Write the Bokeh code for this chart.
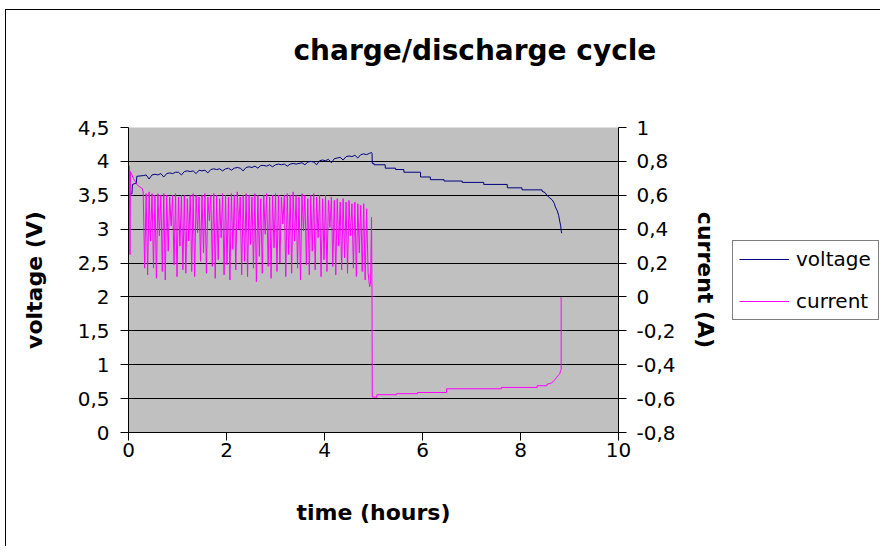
from bokeh.plotting import figure
from bokeh.layouts import row
from bokeh.models import Range1d, LinearAxis, FixedTicker, Legend, LegendItem, InlineStyleSheet
from bokeh.embed import file_html
from bokeh.resources import INLINE

title_text = "charge/discharge cycle"
x_label = "time (hours)"
y_label = "voltage (V)"
y2_label = "current (A)"
series_names = ["voltage", "current"]
series_colors = ["#000080", "#ff00ff"]

x_ticks = [0, 2, 4, 6, 8, 10]
x_tick_labels = ["0", "2", "4", "6", "8", "10"]
v_ticks = [0, 0.5, 1, 1.5, 2, 2.5, 3, 3.5, 4, 4.5]
v_tick_labels = ["0", "0,5", "1", "1,5", "2", "2,5", "3", "3,5", "4", "4,5"]
i_ticks = [-0.8, -0.6, -0.4, -0.2, 0, 0.2, 0.4, 0.6, 0.8, 1]
i_tick_labels = ["-0,8", "-0,6", "-0,4", "-0,2", "0", "0,2", "0,4", "0,6", "0,8", "1"]

# voltage (V) vs time (h)
volt_time = [0.00, 0.005, 0.07, 0.08, 0.16, 0.17,
             0.30, 0.36, 0.42, 0.48, 0.54, 0.60, 0.66, 0.72, 0.78, 0.84, 0.90, 0.96,
             1.02, 1.08, 1.14, 1.20, 1.26, 1.32, 1.38, 1.44, 1.50, 1.56, 1.62, 1.68,
             1.74, 1.80, 1.86, 1.92, 1.98, 2.04, 2.10, 2.16, 2.22, 2.28, 2.34, 2.40,
             2.46, 2.52, 2.58, 2.64, 2.70, 2.76, 2.82, 2.88, 2.94, 3.00, 3.06, 3.12,
             3.18, 3.24, 3.30, 3.36, 3.42, 3.48, 3.54, 3.60, 3.66, 3.72, 3.78, 3.84,
             3.90, 3.96, 4.02, 4.08, 4.14, 4.20, 4.26, 4.32, 4.38, 4.44, 4.50, 4.56,
             4.62, 4.68, 4.74, 4.80, 4.86, 4.92, 4.96, 4.97,
             4.975, 5.01, 5.01, 5.24, 5.24, 5.45, 5.45, 5.62, 5.62, 5.96, 5.96, 6.16,
             6.16, 6.44, 6.44, 6.81, 6.81, 7.25, 7.25, 7.73, 7.73, 8.03, 8.03, 8.44,
             8.44, 8.50, 8.54, 8.60, 8.65, 8.69, 8.71, 8.75, 8.78, 8.80, 8.82, 8.83, 8.84]
volt_value = [3.30, 3.52, 3.52, 3.66, 3.68, 3.78,
              3.79, 3.80, 3.74, 3.80, 3.81, 3.80, 3.82, 3.77, 3.82, 3.83, 3.82, 3.84,
              3.84, 3.80, 3.85, 3.86, 3.85, 3.86, 3.82, 3.87, 3.86, 3.87, 3.83, 3.88,
              3.89, 3.88, 3.89, 3.86, 3.89, 3.90, 3.87, 3.90, 3.91, 3.90, 3.86, 3.91,
              3.92, 3.91, 3.93, 3.90, 3.94, 3.94, 3.93, 3.95, 3.92, 3.95, 3.96, 3.95,
              3.96, 3.93, 3.96, 3.97, 3.96, 3.97, 3.98, 3.95, 3.99, 4.00, 3.99, 3.95,
              4.01, 4.02, 4.01, 4.03, 3.98, 4.04, 4.05, 4.06, 4.02, 4.07, 4.08, 4.07,
              4.09, 4.05, 4.10, 4.11, 4.10, 4.12, 4.13, 4.12,
              3.97, 3.97, 3.95, 3.95, 3.90, 3.90, 3.88, 3.88, 3.84, 3.84, 3.77, 3.77,
              3.73, 3.73, 3.71, 3.71, 3.69, 3.69, 3.66, 3.66, 3.61, 3.61, 3.58, 3.58,
              3.56, 3.54, 3.50, 3.46, 3.43, 3.38, 3.33, 3.27, 3.20, 3.12, 3.05, 2.98, 2.94]

# current (A) vs time (h)
curr_time = [0.00, 0.02, 0.03, 0.04, 0.10, 0.18, 0.28,
             0.30, 0.33, 0.36, 0.39, 0.42, 0.45, 0.48, 0.51, 0.54, 0.57,
             0.60, 0.63, 0.66, 0.69, 0.72, 0.75, 0.78, 0.81, 0.84, 0.87,
             0.90, 0.93, 0.96, 0.99, 1.02, 1.05, 1.08, 1.11, 1.14, 1.17,
             1.20, 1.23, 1.26, 1.29, 1.32, 1.35, 1.38, 1.41, 1.44, 1.47,
             1.50, 1.53, 1.56, 1.59, 1.62, 1.65, 1.68, 1.71, 1.74, 1.77,
             1.80, 1.83, 1.86, 1.89, 1.92, 1.95, 1.98, 2.01, 2.04, 2.07,
             2.10, 2.13, 2.16, 2.19, 2.22, 2.25, 2.28, 2.31, 2.34, 2.37,
             2.40, 2.43, 2.46, 2.49, 2.52, 2.55, 2.58, 2.61, 2.64, 2.67,
             2.70, 2.73, 2.76, 2.79, 2.82, 2.85, 2.88, 2.91, 2.94, 2.97,
             3.00, 3.03, 3.06, 3.09, 3.12, 3.15, 3.18, 3.21, 3.24, 3.27,
             3.30, 3.33, 3.36, 3.39, 3.42, 3.45, 3.48, 3.51, 3.54, 3.57,
             3.60, 3.63, 3.66, 3.69, 3.72, 3.75, 3.78, 3.81, 3.84, 3.87,
             3.90, 3.93, 3.96, 3.99, 4.02, 4.05, 4.08, 4.11, 4.14, 4.17,
             4.20, 4.23, 4.26, 4.29, 4.32, 4.35, 4.38, 4.41, 4.44, 4.47,
             4.50, 4.53, 4.56, 4.59, 4.62, 4.65, 4.68, 4.71, 4.74, 4.77,
             4.80, 4.83, 4.86, 4.89, 4.92,
             4.94, 4.96, 4.97, 4.975,
             5.07, 5.07, 5.47, 5.47, 5.90, 5.90, 6.49, 6.49, 7.61, 7.61, 8.34, 8.34,
             8.54, 8.54, 8.62, 8.67, 8.73, 8.78, 8.80, 8.82, 8.83, 8.83]
curr_value = [0.78, 0.77, 0.25, 0.74, 0.70, 0.66, 0.64,
              0.62, 0.17, 0.61, 0.13, 0.62, 0.33, 0.61, 0.17, 0.60, 0.11,
              0.61, 0.36, 0.60, 0.15, 0.61, 0.10, 0.60, 0.27, 0.59, 0.42,
              0.60, 0.19, 0.61, 0.12, 0.59, 0.30, 0.60, 0.16, 0.60, 0.14,
              0.58, 0.33, 0.60, 0.15, 0.61, 0.12, 0.60, 0.38, 0.59, 0.21,
              0.60, 0.26, 0.61, 0.14, 0.59, 0.45, 0.60, 0.18, 0.61, 0.11,
              0.60, 0.22, 0.58, 0.35, 0.61, 0.13, 0.60, 0.19, 0.59, 0.10,
              0.61, 0.28, 0.60, 0.16, 0.62, 0.40, 0.59, 0.13, 0.60, 0.21,
              0.61, 0.12, 0.60, 0.31, 0.59, 0.17, 0.61, 0.09, 0.60, 0.24,
              0.58, 0.14, 0.60, 0.37, 0.61, 0.18, 0.59, 0.11, 0.60, 0.29,
              0.61, 0.15, 0.60, 0.20, 0.59, 0.43, 0.60, 0.12, 0.61, 0.25,
              0.60, 0.14, 0.62, 0.33, 0.60, 0.17, 0.59, 0.10, 0.61, 0.39,
              0.60, 0.19, 0.58, 0.13, 0.60, 0.27, 0.61, 0.16, 0.59, 0.35,
              0.60, 0.12, 0.58, 0.22, 0.60, 0.15, 0.57, 0.41, 0.59, 0.18,
              0.57, 0.13, 0.58, 0.30, 0.56, 0.16, 0.58, 0.23, 0.56, 0.14,
              0.57, 0.36, 0.55, 0.17, 0.56, 0.12, 0.55, 0.26, 0.54, 0.15,
              0.55, 0.10, 0.52, 0.14, 0.06,
              0.08, 0.47, 0.00, -0.59,
              -0.592, -0.577, -0.577, -0.571, -0.571, -0.564, -0.564, -0.542, -0.542, -0.534, -0.534, -0.524,
              -0.524, -0.515, -0.51, -0.499, -0.477, -0.46, -0.454, -0.433, -0.43, 0.0]

p = figure(width=730, height=546, output_backend="svg", toolbar_location=None,
           x_range=Range1d(0, 10), y_range=Range1d(0, 4.5),
           min_border_left=128, min_border_right=112, min_border_top=127, min_border_bottom=114)
p.extra_y_ranges = {"cur": Range1d(-0.8, 1)}

p.background_fill_color = "#c0c0c0"
p.border_fill_color = "white"
p.outline_line_color = None
p.stylesheets = [InlineStyleSheet(css=":host::after { content: ''; position: absolute; left: 5px; top: 9px; right: 0px; bottom: 0px; border-left: 1px solid #000; border-top: 1px solid #000; pointer-events: none; }")]

p.title.text = title_text
p.title.text_font = "DejaVu Sans"
p.title.text_font_style = "bold"
p.title.text_font_size = "28px"
p.title.text_color = "black"
p.title.align = "left"
p.title.offset = 165
p.title.standoff = 0
try:
    p.title.padding = dict(left=0, right=0, top=0, bottom=61)
except Exception:
    p.title.standoff = 92

r_v = p.line(volt_time, volt_value, line_color=series_colors[0], line_width=1)
r_i = p.line(curr_time, curr_value, line_color=series_colors[1], line_width=1, y_range_name="cur")

right_axis = LinearAxis(y_range_name="cur")
p.add_layout(right_axis, "right")

def style_axis(ax, ticks, labels, label_text, lab_standoff, axis_standoff):
    ax.ticker = FixedTicker(ticks=ticks)
    ax.major_label_overrides = {t: l for t, l in zip(ticks, labels)}
    ax.axis_label = label_text
    ax.axis_label_text_font = "DejaVu Sans"
    ax.axis_label_text_font_style = "bold"
    ax.axis_label_text_font_size = "22px"
    ax.axis_label_text_color = "black"
    ax.axis_label_standoff = axis_standoff
    ax.major_label_text_font = "DejaVu Sans"
    ax.major_label_text_font_size = "20px"
    ax.major_label_text_color = "black"
    ax.major_label_standoff = lab_standoff
    ax.axis_line_color = "black"
    ax.major_tick_line_color = "black"
    ax.major_tick_out = 8
    ax.major_tick_in = 0
    ax.minor_tick_line_color = None

style_axis(p.xaxis[0], x_ticks, x_tick_labels, x_label, 2, 40)
style_axis(p.yaxis[0], v_ticks, v_tick_labels, y_label, 11, 28)
style_axis(right_axis, i_ticks, i_tick_labels, y2_label, 10, 14)

p.xgrid.visible = False
p.ygrid.ticker = FixedTicker(ticks=v_ticks)
p.ygrid.grid_line_color = "black"
p.ygrid.grid_line_width = 1

# legend lives in a narrow companion figure to the right of the chart;
# its ranges keep the copied series out of view so only the legend shows
q = figure(width=150, height=546, output_backend="svg", toolbar_location=None,
           x_range=Range1d(100, 101), y_range=Range1d(100, 101),
           x_axis_type=None, y_axis_type=None, min_border=0,
           min_border_left=0, min_border_right=0, min_border_top=0, min_border_bottom=0)
q.outline_line_color = None
q.background_fill_color = "white"
q.border_fill_color = "white"
q.stylesheets = [InlineStyleSheet(css=":host::after { content: ''; position: absolute; left: 0px; top: 9px; right: 0px; height: 0px; border-top: 1px solid #000; pointer-events: none; }")]
q_v = q.line(volt_time, volt_value, line_color=series_colors[0], line_width=1)
q_i = q.line(curr_time, curr_value, line_color=series_colors[1], line_width=1)

legend = Legend(items=[LegendItem(label=series_names[0], renderers=[q_v]),
                       LegendItem(label=series_names[1], renderers=[q_i])],
                location=(2, 112))
legend.border_line_color = "black"
legend.border_line_width = 1
legend.background_fill_color = "white"
legend.background_fill_alpha = 1
legend.label_text_font = "DejaVu Sans"
legend.label_text_font_size = "20px"
legend.label_text_color = "black"
legend.glyph_width = 50
legend.glyph_height = 20
legend.label_standoff = 7
legend.spacing = 18
legend.padding = 6
legend.margin = 0
legend.label_width = 76
q.add_layout(legend)

layout = row(p, q)
open("out.html", "w").write(file_html(layout, INLINE))
